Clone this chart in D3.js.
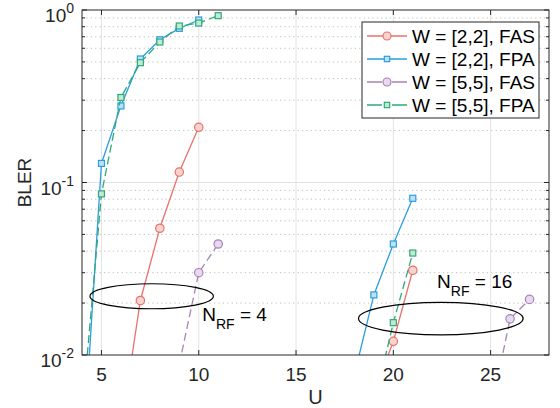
<!DOCTYPE html>
<html><head><meta charset="utf-8">
<script src="https://cdn.jsdelivr.net/npm/d3@7"></script>
<style>
html,body{margin:0;padding:0;background:#fff;}
svg{display:block;font-family:"Liberation Sans",Arial,Helvetica,sans-serif;}
</style></head>
<body><svg id="chart" width="560" height="408"></svg>
<script>
// ---------- data ----------
const seriesNames = ["W = [2,2], FAS", "W = [2,2], FPA", "W = [5,5], FAS", "W = [5,5], FPA"];
const seriesColors = ["#e8726b", "#2b9ee0", "#a883b8", "#2eaa78"];
const seriesFills = ["#f9d3d0", "#bfe1f6", "#e7d9ee", "#c4e8d6"];
const seriesMarkers = ["circle", "square", "circle", "square"];
const seriesDashed = [false, false, true, true];

// N_RF = 4 cluster
const u_fas22_nrf4 = [6, 7, 8, 9, 10];
const bler_fas22_nrf4 = [0.0037, 0.0207, 0.0543, 0.115, 0.209];
const u_fpa22_nrf4 = [4, 5, 6, 7, 8, 9, 10];
const bler_fpa22_nrf4 = [0.0021, 0.129, 0.278, 0.52, 0.672, 0.783, 0.875];
const u_fas55_nrf4 = [9, 10, 11];
const bler_fas55_nrf4 = [0.00885, 0.030, 0.044];
const u_fpa55_nrf4 = [4, 5, 6, 7, 8, 9, 10, 11];
const bler_fpa55_nrf4 = [0.0045, 0.0859, 0.311, 0.495, 0.652, 0.808, 0.84, 0.927];

// N_RF = 16 cluster
const u_fas22_nrf16 = [19, 20, 21];
const bler_fas22_nrf16 = [0.006, 0.0120, 0.031];
const u_fpa22_nrf16 = [18, 19, 20, 21];
const bler_fpa22_nrf16 = [0.0077, 0.0223, 0.044, 0.081];
const u_fas55_nrf16 = [25, 26, 27];
const bler_fas55_nrf16 = [0.0047, 0.0162, 0.021];
const u_fpa55_nrf16 = [19, 20, 21];
const bler_fpa55_nrf16 = [0.0051, 0.0154, 0.039];

const xTicks = [5, 10, 15, 20, 25];
const yTickExponents = [-2, -1, 0];
const xLabel = "U";
const yLabel = "BLER";

// annotations: ellipse centre (U, BLER), half-width in U
const ellipseU = [7.58, 22.44];
const ellipseBler = [0.0219, 0.01626];
const ellipseHalfU = [3.17, 4.23];
const annotU = [10.18, 22.25];
const annotBler = [0.01567, 0.0246];
const annotValue = ["4", "16"];

// ---------- layout ----------
const svg = d3.select("#chart");
const L = 82, R = 549, T = 10, B = 355;
const x = d3.scaleLinear().domain([4, 28]).range([L, R]);
const y = d3.scaleLog().domain([0.01, 1]).range([B, T]);
const axisColor = "#262626";
const FS = 19, FSS = 14;

// grid
const minorVals = [];
[0.01, 0.1].forEach(d => { for (let k = 2; k <= 9; k++) minorVals.push(d * k); });
const grid = svg.append("g");
grid.selectAll(".ymin").data(minorVals).join("line")
  .attr("x1", L).attr("x2", R).attr("y1", d => y(d)).attr("y2", d => y(d))
  .attr("stroke", "#bdbdbd").attr("stroke-width", 1).attr("stroke-dasharray", "1.2,3.2");
grid.selectAll(".xmaj").data(xTicks).join("line")
  .attr("x1", d => x(d)).attr("x2", d => x(d)).attr("y1", T).attr("y2", B)
  .attr("stroke", "#e3e3e3").attr("stroke-width", 1);
grid.selectAll(".ymaj").data([0.1]).join("line")
  .attr("x1", L).attr("x2", R).attr("y1", d => y(d)).attr("y2", d => y(d))
  .attr("stroke", "#e3e3e3").attr("stroke-width", 1);

// clip
svg.append("clipPath").attr("id", "clip").append("rect")
  .attr("x", L).attr("y", T).attr("width", R - L).attr("height", B - T);

const curves = [
  [0, u_fas22_nrf4, bler_fas22_nrf4], [1, u_fpa22_nrf4, bler_fpa22_nrf4],
  [2, u_fas55_nrf4, bler_fas55_nrf4], [3, u_fpa55_nrf4, bler_fpa55_nrf4],
  [0, u_fas22_nrf16, bler_fas22_nrf16], [1, u_fpa22_nrf16, bler_fpa22_nrf16],
  [2, u_fas55_nrf16, bler_fas55_nrf16], [3, u_fpa55_nrf16, bler_fpa55_nrf16]
];
const plot = svg.append("g").attr("clip-path", "url(#clip)");
const line = d3.line().x(d => x(d[0])).y(d => y(d[1]));

function drawMarker(g, type, cx, cy, i, size) {
  if (type === "circle") {
    g.append("circle").attr("cx", cx).attr("cy", cy).attr("r", size)
      .attr("fill", seriesFills[i]).attr("stroke", seriesColors[i]).attr("stroke-width", 1.2);
  } else {
    g.append("rect").attr("x", cx - size).attr("y", cy - size)
      .attr("width", 2 * size).attr("height", 2 * size)
      .attr("fill", seriesFills[i]).attr("stroke", seriesColors[i]).attr("stroke-width", 1.2);
  }
}

curves.forEach(([i, us, bs]) => {
  const pts = us.map((u, k) => [u, bs[k]]);
  plot.append("path").attr("d", line(pts)).attr("fill", "none")
    .attr("stroke", seriesColors[i]).attr("stroke-width", 1.3)
    .attr("stroke-dasharray", seriesDashed[i] ? "8,4" : null);
  pts.forEach(p => drawMarker(plot, seriesMarkers[i], x(p[0]), y(p[1]), i,
    seriesMarkers[i] === "circle" ? 4.2 : 3));
});

// ellipses
ellipseU.forEach((u, k) => {
  svg.append("ellipse").attr("cx", x(u)).attr("cy", y(ellipseBler[k]))
    .attr("rx", x(u + ellipseHalfU[k]) - x(u)).attr("ry", k === 0 ? 12.5 : 16.2)
    .attr("fill", "none").attr("stroke", "#000").attr("stroke-width", 1.2);
});
// annotation texts
annotU.forEach((u, k) => {
  const t = svg.append("text").attr("x", x(u)).attr("y", y(annotBler[k]))
    .attr("font-size", FS).attr("fill", "#000");
  t.append("tspan").text("N");
  t.append("tspan").attr("font-size", FSS).attr("dy", 8).text("RF");
  t.append("tspan").attr("dy", -8).text(" = " + annotValue[k]);
});

// axes box
const ax = svg.append("g");
ax.append("rect").attr("x", L).attr("y", T).attr("width", R - L).attr("height", B - T)
  .attr("fill", "none").attr("stroke", axisColor).attr("stroke-width", 1);

// ticks (inward)
xTicks.forEach(t => {
  ax.append("line").attr("x1", x(t)).attr("x2", x(t)).attr("y1", B).attr("y2", B - 5).attr("stroke", axisColor);
  ax.append("line").attr("x1", x(t)).attr("x2", x(t)).attr("y1", T).attr("y2", T + 5).attr("stroke", axisColor);
});
yTickExponents.forEach(e => {
  const yy = y(Math.pow(10, e));
  ax.append("line").attr("x1", L).attr("x2", L + 5).attr("y1", yy).attr("y2", yy).attr("stroke", axisColor);
  ax.append("line").attr("x1", R).attr("x2", R - 5).attr("y1", yy).attr("y2", yy).attr("stroke", axisColor);
});
minorVals.forEach(v => {
  const yy = y(v);
  ax.append("line").attr("x1", L).attr("x2", L + 3).attr("y1", yy).attr("y2", yy).attr("stroke", axisColor);
  ax.append("line").attr("x1", R).attr("x2", R - 3).attr("y1", yy).attr("y2", yy).attr("stroke", axisColor);
});

// tick labels
svg.selectAll(".xtl").data(xTicks).join("text")
  .attr("x", d => x(d)).attr("y", B + 26).attr("text-anchor", "middle")
  .attr("font-size", FS).attr("fill", axisColor).text(d => d);
yTickExponents.forEach(e => {
  const t = svg.append("text").attr("x", L - 8).attr("y", y(Math.pow(10, e)) + 12)
    .attr("text-anchor", "end").attr("font-size", FS).attr("fill", axisColor);
  t.append("tspan").text("10");
  t.append("tspan").attr("font-size", FSS).attr("dy", -9).text(String(e));
});

// axis labels
svg.append("text").attr("x", (L + R) / 2).attr("y", 404).attr("text-anchor", "middle")
  .attr("font-size", 20).attr("fill", axisColor).text(xLabel);
svg.append("text").attr("transform", `translate(31,${(T + B) / 2}) rotate(-90)`)
  .attr("text-anchor", "middle").attr("font-size", FS).attr("fill", axisColor).text(yLabel);

// legend
const lg = svg.append("g");
lg.append("rect").attr("x", 362).attr("y", 22).attr("width", 177).attr("height", 96)
  .attr("fill", "#fff").attr("stroke", axisColor).attr("stroke-width", 1);
seriesNames.forEach((name, i) => {
  const cy = 36 + i * 23;
  lg.append("line").attr("x1", 367).attr("x2", 407).attr("y1", cy).attr("y2", cy)
    .attr("stroke", seriesColors[i]).attr("stroke-width", 1.3)
    .attr("stroke-dasharray", seriesDashed[i] ? "15,10" : null);
  drawMarker(lg, seriesMarkers[i], 387, cy, i, seriesMarkers[i] === "circle" ? 4 : 2.7);
  lg.append("text").attr("x", 412).attr("y", cy + 7).attr("font-size", FS)
    .attr("fill", "#000").text(name);
});
</script></body></html>
